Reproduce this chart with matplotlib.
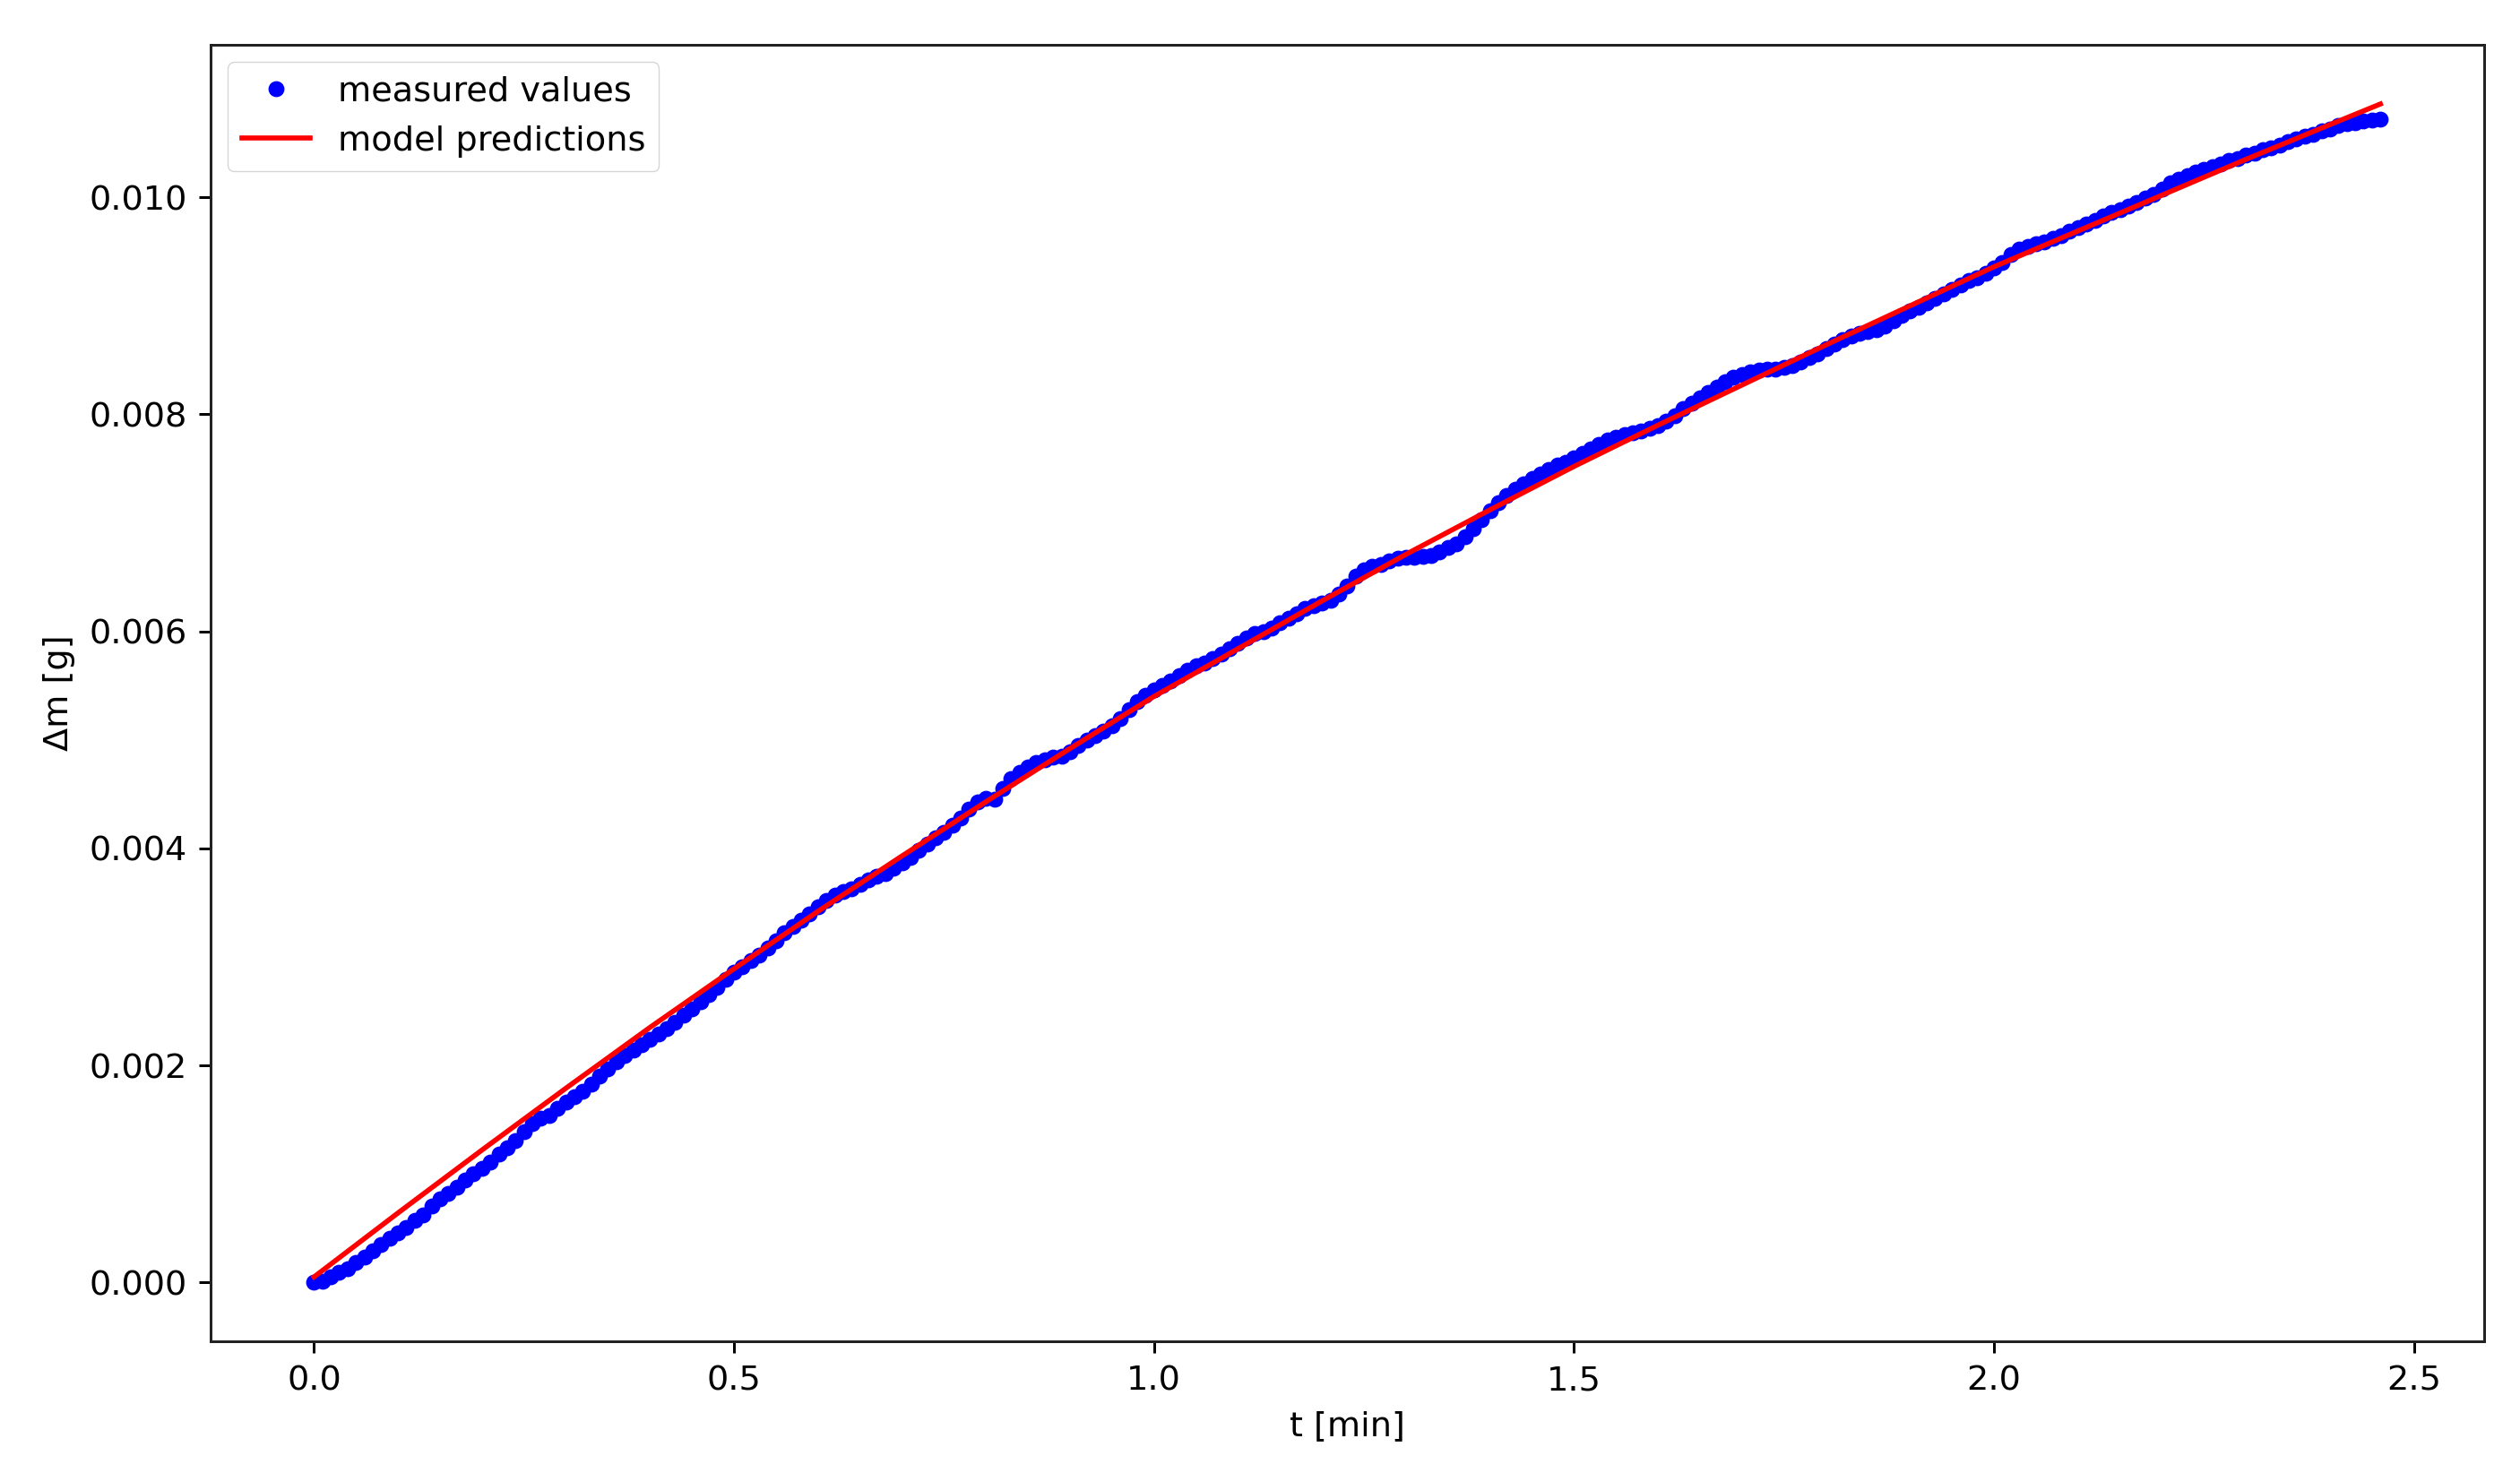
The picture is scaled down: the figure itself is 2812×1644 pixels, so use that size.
import numpy as np
import matplotlib
matplotlib.use("Agg")
import matplotlib.pyplot as plt

# sampling grid of the measurement [min]
t_meas = np.round(np.arange(0, 247) * 0.01, 2)

# measured mass change, units of 1e-3 g
dm_meas = [
0.00, 0.01, 0.05, 0.09, 0.13, 0.18, 0.23, 0.29, 0.35, 0.41,
0.46, 0.51, 0.57, 0.62, 0.70, 0.77, 0.82, 0.88, 0.94, 1.00,
1.05, 1.11, 1.18, 1.24, 1.31, 1.39, 1.46, 1.51, 1.54, 1.60,
1.66, 1.71, 1.76, 1.83, 1.90, 1.97, 2.03, 2.09, 2.14, 2.19,
2.24, 2.29, 2.34, 2.40, 2.46, 2.52, 2.59, 2.65, 2.72, 2.79,
2.86, 2.91, 2.97, 3.02, 3.08, 3.15, 3.22, 3.28, 3.34, 3.40,
3.46, 3.52, 3.57, 3.60, 3.63, 3.67, 3.71, 3.74, 3.77, 3.82,
3.87, 3.92, 3.98, 4.04, 4.10, 4.15, 4.21, 4.28, 4.36, 4.43,
4.46, 4.45, 4.55, 4.64, 4.70, 4.75, 4.79, 4.82, 4.84, 4.85,
4.89, 4.95, 5.00, 5.04, 5.08, 5.13, 5.20, 5.28, 5.35, 5.41,
5.46, 5.50, 5.54, 5.59, 5.64, 5.68, 5.71, 5.75, 5.79, 5.84,
5.89, 5.94, 5.98, 6.00, 6.03, 6.08, 6.12, 6.16, 6.21, 6.24,
6.26, 6.29, 6.34, 6.42, 6.51, 6.57, 6.60, 6.62, 6.65, 6.67,
6.68, 6.68, 6.69, 6.70, 6.73, 6.77, 6.81, 6.87, 6.95, 7.03,
7.11, 7.19, 7.25, 7.31, 7.36, 7.41, 7.45, 7.49, 7.53, 7.56,
7.60, 7.64, 7.68, 7.72, 7.76, 7.79, 7.81, 7.83, 7.85, 7.87,
7.90, 7.94, 7.99, 8.05, 8.10, 8.15, 8.20, 8.25, 8.30, 8.34,
8.37, 8.39, 8.41, 8.42, 8.42, 8.43, 8.45, 8.48, 8.52, 8.56,
8.61, 8.65, 8.69, 8.72, 8.75, 8.76, 8.78, 8.81, 8.86, 8.91,
8.95, 8.99, 9.03, 9.07, 9.11, 9.15, 9.19, 9.23, 9.26, 9.30,
9.35, 9.40, 9.47, 9.52, 9.55, 9.57, 9.59, 9.62, 9.65, 9.69,
9.72, 9.75, 9.79, 9.83, 9.86, 9.89, 9.92, 9.95, 9.99, 10.03,
10.08, 10.13, 10.17, 10.20, 10.23, 10.26, 10.28, 10.31, 10.34, 10.36,
10.39, 10.41, 10.44, 10.46, 10.48, 10.51, 10.54, 10.56, 10.58, 10.61,
10.63, 10.66, 10.68, 10.69, 10.70, 10.71, 10.72,
]

# model curve
t_model = [0.0, 0.1, 0.2, 0.3, 0.4, 0.5, 0.6, 0.7, 0.8, 0.9, 1.0, 1.1, 1.2,
           1.3, 1.4, 1.5, 1.6, 1.7, 1.8, 1.9, 2.0, 2.1, 2.2, 2.3, 2.4, 2.46]
dm_model = [0.05, 0.64, 1.22, 1.79, 2.35, 2.89, 3.42, 3.93, 4.43, 4.92, 5.40,
            5.84, 6.28, 6.71, 7.12, 7.52, 7.90, 8.27, 8.64, 9.00, 9.36, 9.69,
            10.02, 10.35, 10.67, 10.86]

s = 2.7  # scale factor against matplotlib defaults
plt.rcParams.update({
    "font.size": 10.2 * s,
    "axes.linewidth": 0.8 * s,
    "axes.edgecolor": "#222222",
    "xtick.major.size": 3.5 * s, "ytick.major.size": 3.5 * s,
    "xtick.major.width": 0.8 * s, "ytick.major.width": 0.8 * s,
    "xtick.major.pad": 3.5 * s, "ytick.major.pad": 3.5 * s,
    "axes.labelpad": 4.0 * s,
})

fig = plt.figure(figsize=(28.12, 16.44), dpi=100)
ax = fig.add_axes([0.0836, 0.0894, 0.902, 0.880])

ax.plot(t_meas, np.array(dm_meas) * 1e-3, "b.", markersize=7.5 * s, markeredgewidth=1.0 * s,
        label="measured values")
ax.plot(t_model, np.array(dm_model) * 1e-3, "r-", linewidth=1.5 * s, label="model predictions")

ax.set_xlabel("t [min]")
ax.set_ylabel("Δm [g]")
ax.legend(loc="upper left")

fig.savefig("out.png", dpi=100)
